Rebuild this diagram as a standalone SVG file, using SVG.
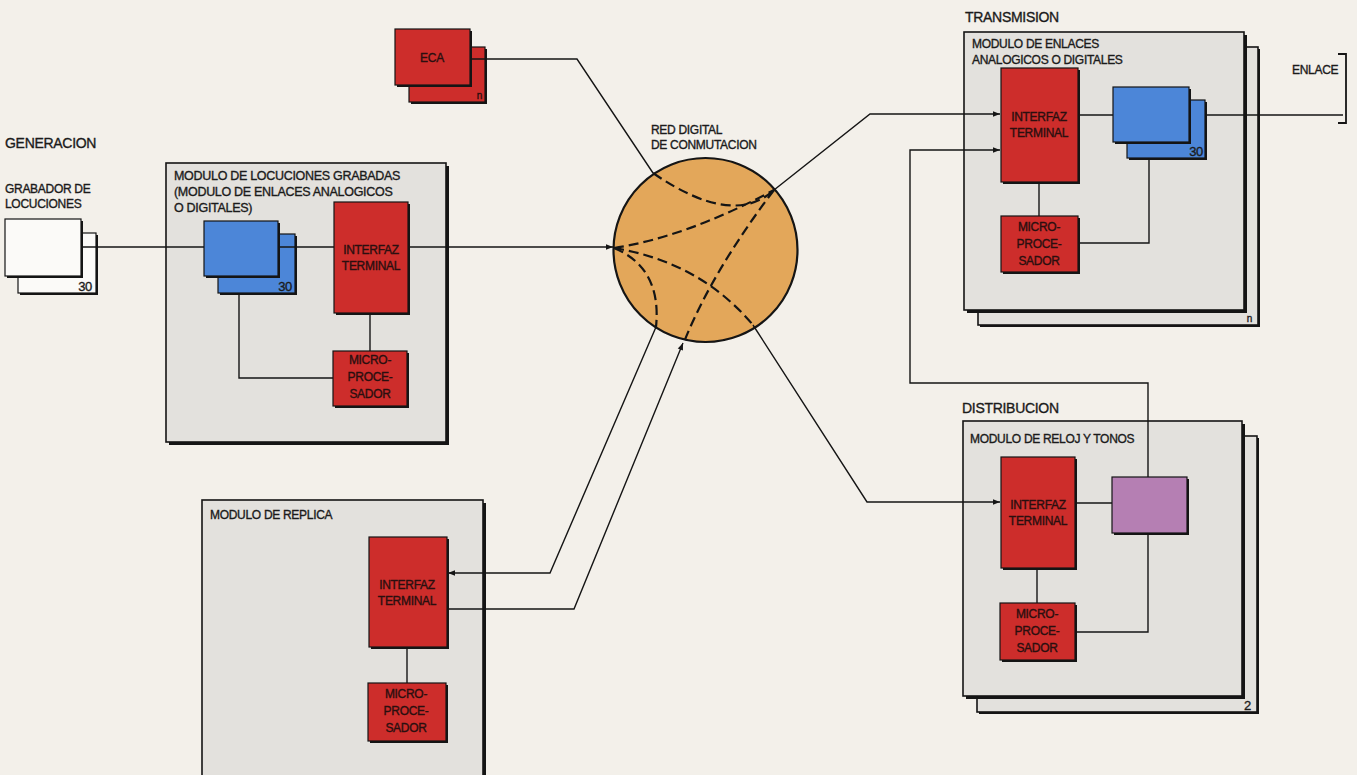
<svg xmlns="http://www.w3.org/2000/svg" width="1357" height="775" viewBox="0 0 1357 775">
  <defs>
    <style>
      .t { font-family: "Liberation Sans", Arial, sans-serif; font-size: 12px; fill: #1b1b1b; stroke: #1b1b1b; stroke-width: 0.35px; letter-spacing: -0.3px; }
      .h { font-size: 14px; }
      .m { font-size: 12.5px; }
      .c { text-anchor: middle; }
      .r { text-anchor: end; font-size: 13px; }
      .shadow { fill: #151515; }
      .module { fill: #e3e1dd; stroke: #151515; stroke-width: 1.6; }
      .red { fill: #cd2d2b; stroke: #151515; stroke-width: 1.2; }
      .blue { fill: #4c86d8; stroke: #151515; stroke-width: 1.2; }
      .white { fill: #fbfaf8; stroke: #151515; stroke-width: 1.2; }
      .purple { fill: #b57fb3; stroke: #151515; stroke-width: 1.2; }
      .wire { fill: none; stroke: #151515; stroke-width: 1.4; }
      .dash { fill: none; stroke: #151515; stroke-width: 2.2; stroke-dasharray: 10 5; }
      .ink { fill: #2a0f0f; stroke: #2a0f0f; }
    </style>
    <marker id="arr" viewBox="0 0 10 10" refX="10" refY="5" markerWidth="9" markerHeight="7" markerUnits="userSpaceOnUse" orient="auto">
      <path d="M0,1 L10,5 L0,9 Z" fill="#151515"/>
    </marker>
  </defs>

  <rect width="1357" height="775" fill="#f3f0ea"/>

  <!-- GENERACION -->
  <g id="generacion">
    <text class="t h" x="5" y="148">GENERACION</text>
    <text class="t" x="5" y="193">GRABADOR DE</text>
    <text class="t" x="5" y="208">LOCUCIONES</text>
    <g id="grabador">
      <rect class="shadow" x="20" y="235" width="78" height="60"/>
      <rect class="white" x="18" y="233" width="78" height="60"/>
      <text class="t r" x="92" y="291">30</text>
      <rect class="shadow" x="7" y="221" width="76" height="57"/>
      <rect class="white" x="5" y="219" width="76" height="57"/>
    </g>
  </g>

  <!-- Module of recorded announcements -->
  <g id="modulo-locuciones">
    <rect class="shadow" x="169" y="166" width="280" height="279"/>
    <rect class="module" x="166" y="163" width="280" height="279"/>
    <text class="t m" x="174" y="180">MODULO DE LOCUCIONES GRABADAS</text>
    <text class="t m" x="174" y="196">(MODULO DE ENLACES ANALOGICOS</text>
    <text class="t m" x="174" y="212">O DIGITALES)</text>
    <g id="loc-blue">
      <rect class="shadow" x="220" y="236" width="77" height="59"/>
      <rect class="blue" x="218" y="234" width="77" height="59"/>
      <text class="t r" x="292" y="291">30</text>
      <rect class="shadow" x="206" y="223" width="74" height="55"/>
      <rect class="blue" x="204" y="221" width="74" height="55"/>
    </g>
    <g id="loc-interfaz">
      <rect class="shadow" x="336" y="204" width="74" height="111"/>
      <rect class="red" x="334" y="202" width="74" height="111"/>
      <text class="t c ink" x="371" y="254">INTERFAZ</text>
      <text class="t c ink" x="371" y="270">TERMINAL</text>
    </g>
    <g id="loc-micro">
      <rect class="shadow" x="335" y="353" width="74" height="55"/>
      <rect class="red" x="333" y="351" width="74" height="55"/>
      <text class="t c ink" x="370" y="364">MICRO-</text>
      <text class="t c ink" x="370" y="381">PROCE-</text>
      <text class="t c ink" x="370" y="398">SADOR</text>
    </g>
  </g>

  <!-- ECA -->
  <g id="eca">
    <rect class="shadow" x="411" y="49" width="76" height="55"/>
    <rect class="red" x="409" y="47" width="76" height="55"/>
    <text class="t r ink" x="482" y="99" style="font-size:10px">n</text>
    <rect class="shadow" x="397" y="31" width="75" height="56"/>
    <rect class="red" x="395" y="29" width="75" height="56"/>
    <text class="t c ink" x="432" y="62">ECA</text>
  </g>

  <!-- Switching network -->
  <g id="red-digital">
    <text class="t" x="651" y="134">RED DIGITAL</text>
    <text class="t" x="651" y="149">DE CONMUTACION</text>
    <circle cx="705.5" cy="250" r="92" fill="#e3a75a" stroke="#151515" stroke-width="2.2"/>
  </g>

  <!-- TRANSMISION -->
  <g id="transmision">
    <text class="t h" x="965" y="22">TRANSMISION</text>
    <rect class="shadow" x="980" y="49" width="280" height="278"/>
    <rect class="module" x="978" y="47" width="280" height="278"/>
    <text class="t r" x="1252" y="322" style="font-size:10px">n</text>
    <rect class="shadow" x="967" y="35" width="280" height="278"/>
    <rect class="module" x="964" y="32" width="280" height="278"/>
    <text class="t" x="972" y="48">MODULO DE ENLACES</text>
    <text class="t" x="972" y="64">ANALOGICOS O DIGITALES</text>
    <g id="tx-interfaz">
      <rect class="shadow" x="1003" y="70" width="77" height="114"/>
      <rect class="red" x="1001" y="68" width="77" height="114"/>
      <text class="t c ink" x="1039" y="121">INTERFAZ</text>
      <text class="t c ink" x="1039" y="137">TERMINAL</text>
    </g>
    <g id="tx-blue">
      <rect class="shadow" x="1129" y="102" width="78" height="58"/>
      <rect class="blue" x="1127" y="100" width="78" height="58"/>
      <text class="t r" x="1203" y="156">30</text>
      <rect class="shadow" x="1115" y="89" width="76" height="55"/>
      <rect class="blue" x="1113" y="87" width="76" height="55"/>
    </g>
    <g id="tx-micro">
      <rect class="shadow" x="1003" y="218" width="77" height="56"/>
      <rect class="red" x="1001" y="216" width="77" height="56"/>
      <text class="t c ink" x="1039" y="231">MICRO-</text>
      <text class="t c ink" x="1039" y="248">PROCE-</text>
      <text class="t c ink" x="1039" y="265">SADOR</text>
    </g>
  </g>

  <!-- ENLACE -->
  <g id="enlace">
    <text class="t" x="1292" y="74">ENLACE</text>
    <path d="M1338,54 H1346 V123 H1338" fill="none" stroke="#151515" stroke-width="1.8"/>
  </g>

  <!-- DISTRIBUCION -->
  <g id="distribucion">
    <text class="t h" x="962" y="413">DISTRIBUCION</text>
    <rect class="shadow" x="979" y="438" width="280" height="276"/>
    <rect class="module" x="977" y="436" width="280" height="276"/>
    <text class="t r" x="1251" y="710">2</text>
    <rect class="shadow" x="966" y="424" width="279" height="275"/>
    <rect class="module" x="963" y="421" width="279" height="275"/>
    <text class="t" x="970" y="443">MODULO DE RELOJ Y TONOS</text>
    <g id="dist-interfaz">
      <rect class="shadow" x="1003" y="459" width="74" height="111"/>
      <rect class="red" x="1001" y="457" width="74" height="111"/>
      <text class="t c ink" x="1038" y="509">INTERFAZ</text>
      <text class="t c ink" x="1038" y="525">TERMINAL</text>
    </g>
    <g id="dist-purple">
      <rect class="shadow" x="1114" y="479" width="75" height="56"/>
      <rect class="purple" x="1112" y="477" width="75" height="56"/>
    </g>
    <g id="dist-micro">
      <rect class="shadow" x="1002" y="605" width="75" height="57"/>
      <rect class="red" x="1000" y="603" width="75" height="57"/>
      <text class="t c ink" x="1037" y="618">MICRO-</text>
      <text class="t c ink" x="1037" y="635">PROCE-</text>
      <text class="t c ink" x="1037" y="652">SADOR</text>
    </g>
  </g>

  <!-- Replica module -->
  <g id="modulo-replica">
    <rect class="shadow" x="205" y="503" width="281" height="290"/>
    <rect class="module" x="202" y="500" width="281" height="290"/>
    <text class="t" x="210" y="519">MODULO DE REPLICA</text>
    <g id="rep-interfaz">
      <rect class="shadow" x="371" y="539" width="78" height="110"/>
      <rect class="red" x="369" y="537" width="78" height="110"/>
      <text class="t c ink" x="407" y="589">INTERFAZ</text>
      <text class="t c ink" x="407" y="605">TERMINAL</text>
    </g>
    <g id="rep-micro">
      <rect class="shadow" x="370" y="685" width="78" height="58"/>
      <rect class="red" x="368" y="683" width="78" height="58"/>
      <text class="t c ink" x="406" y="698">MICRO-</text>
      <text class="t c ink" x="406" y="715">PROCE-</text>
      <text class="t c ink" x="406" y="732">SADOR</text>
    </g>
  </g>

  <!-- Connectors -->
  <g id="connectors">
    <!-- generation path -->
    <path class="wire" d="M81,247 H204"/>
    <path class="wire" d="M278,247 H334"/>
    <path class="wire" d="M408,247 H613" marker-end="url(#arr)"/>
    <path class="wire" d="M370,313 V351"/>
    <path class="wire" d="M239,295 V378 H333"/>
    <!-- ECA into network -->
    <path class="wire" d="M470,59 H577 L653,173"/>
    <!-- paths through the switching network -->
    <path class="dash" d="M653,173 Q733,228 774,190"/>
    <path class="dash" d="M614,248 Q686,237 774,190"/>
    <path class="dash" d="M614,248 Q662,268 656,327"/>
    <path class="dash" d="M614,248 Q700,262 753,325"/>
    <path class="dash" d="M774,190 Q712,272 684,342"/>
    <!-- network to transmission -->
    <path class="wire" d="M774,190 L870,114 H1000" marker-end="url(#arr)"/>
    <path class="wire" d="M1078,115 H1113"/>
    <path class="wire" d="M1205,115 H1343"/>
    <path class="wire" d="M1039,182 V216"/>
    <path class="wire" d="M1078,243 H1149 V158"/>
    <!-- clock feed from distribution -->
    <path class="wire" d="M1148,477 V383 H910 V150 H1000" marker-end="url(#arr)"/>
    <!-- network to distribution -->
    <path class="wire" d="M753,325 L867,502 H1000" marker-end="url(#arr)"/>
    <path class="wire" d="M1075,503 H1112"/>
    <path class="wire" d="M1037,568 V603"/>
    <path class="wire" d="M1075,632 H1148 V533"/>
    <!-- replica loop -->
    <path class="wire" d="M656,327 L550,573 H448" marker-end="url(#arr)"/>
    <path class="wire" d="M447,609 H574 L683,343" marker-end="url(#arr)"/>
    <path class="wire" d="M407,647 V683"/>
  </g>
</svg>
